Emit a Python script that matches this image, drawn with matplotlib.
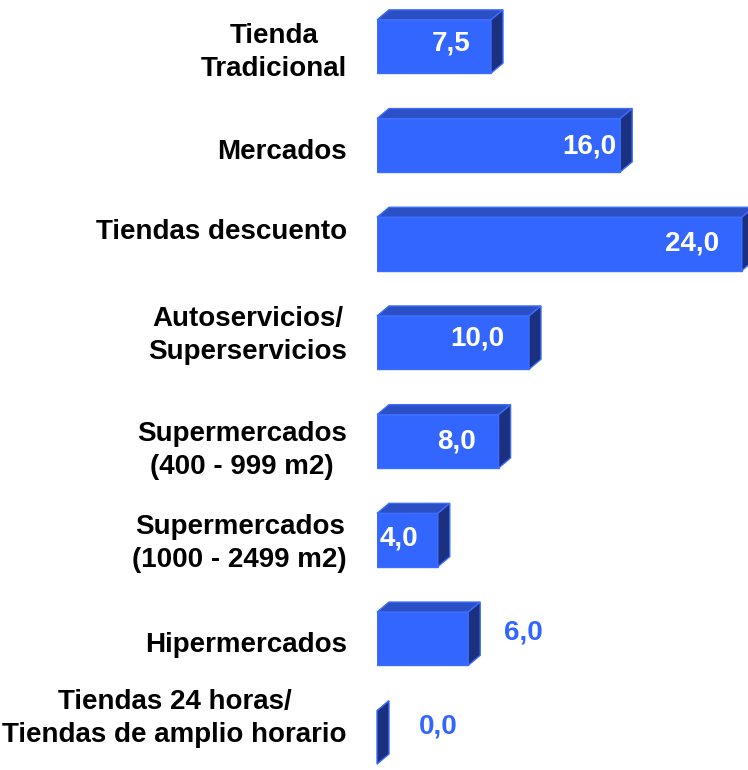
import matplotlib
matplotlib.use('Agg')
import matplotlib.pyplot as plt
from matplotlib.patches import Polygon

# data
categories = ['Tienda\nTradicional', 'Mercados', 'Tiendas descuento',
              'Autoservicios/\nSuperservicios', 'Supermercados\n(400 - 999 m2)',
              'Supermercados\n(1000 - 2499 m2)', 'Hipermercados',
              'Tiendas 24 horas/\nTiendas de amplio horario']
values = [7.5, 16.0, 24.0, 10.0, 8.0, 4.0, 6.0, 0.0]

# where the value labels sit (as in the original, not regular)
label_x = [4.87, 13.96, 20.72, 6.58, 5.2, 1.45, 9.6, 4.0]
label_dy = [-0.035, 0.01, 0.0, -0.04, 0.0, -0.015, -0.06, -0.11]
label_inside = [True, True, True, True, True, True, False, False]
cat_dy = [0.06, 0.066, -0.12, -0.07, 0.09, 0.035, 0.06, -0.19]

front = '#3366FF'
top_c = '#2B4FC4'
side_c = '#1B3180'
edge = '#3D6DFF'

plt.rcParams['font.family'] = ['Liberation Sans', 'DejaVu Sans']

W, H = 748, 770
fig = plt.figure(figsize=(W / 100, H / 100), dpi=100)
x0_px = 377
ax = fig.add_axes([x0_px / W, 0, 1 - x0_px / W, 1])
px_per_unit = 15.2
row_px = 98.7
ax.set_xlim(0, (W - x0_px) / px_per_unit)
ax.set_ylim((H - 46.5) / row_px, -46.5 / row_px)
ax.axis('off')

h = 0.54
dx = 12 / px_per_unit
dy = 10 / row_px
y = list(range(len(values)))

ax.barh(y, values, height=h, color=front, edgecolor=edge, linewidth=1, zorder=2)

for i, v in enumerate(values):
    yt = i - h / 2
    yb = i + h / 2
    top = Polygon([(0, yt), (dx, yt - dy), (v + dx, yt - dy), (v, yt)],
                  closed=True, facecolor=top_c, edgecolor=edge, lw=1,
                  zorder=2, clip_on=False)
    side = Polygon([(v, yt), (v + dx, yt - dy), (v + dx, yb - dy), (v, yb)],
                   closed=True, facecolor=side_c, edgecolor=edge, lw=1,
                   zorder=3, clip_on=False)
    ax.add_patch(top)
    ax.add_patch(side)

    txt = f'{v:.1f}'.replace('.', ',')
    ax.text(label_x[i], i + label_dy[i], txt, ha='center', va='center',
            fontsize=20, fontweight='bold',
            color='white' if label_inside[i] else front, zorder=4)

    ax.text(-30 / px_per_unit, i + cat_dy[i], categories[i], ha='right',
            va='center', multialignment='center', fontsize=20,
            fontweight='bold', color='black', linespacing=1.35,
            clip_on=False)

fig.savefig('out.png', dpi=100)
